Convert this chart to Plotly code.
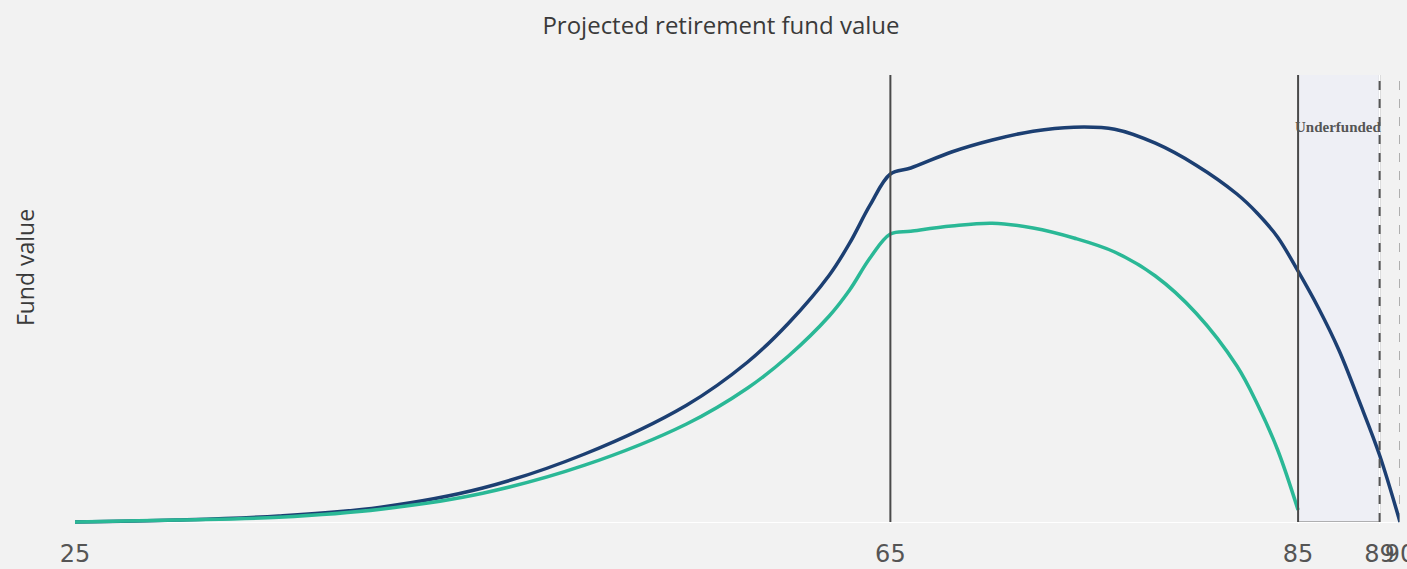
import plotly.graph_objects as go

# Projected fund value (in $ thousands) by age
ages_growth = [25, 30, 35, 40, 45, 50, 55, 58, 60, 62, 63, 64, 65, 66, 68, 70, 72, 74, 76, 78, 80, 82, 83, 84, 85, 86, 87, 88, 89, 90]
fund_growth = [0, 5, 15, 37, 85, 170, 292, 400, 497, 617, 697, 792, 870, 885, 925, 955, 977, 987, 982, 947, 892, 820, 772, 712, 627, 535, 430, 302, 167, 0]

ages_base = [25, 30, 35, 40, 45, 50, 55, 58, 60, 62, 63, 64, 65, 66, 68, 70, 72, 74, 76, 78, 80, 82, 83, 84, 85]
fund_base = [0, 5, 12, 32, 72, 142, 245, 335, 415, 515, 580, 660, 720, 727, 740, 747, 735, 710, 675, 615, 522, 390, 295, 180, 30]

tick_ages = [25, 65, 85, 89, 90]
retire_age = 65
depleted_age = 85
target_age = 89
horizon_age = 90

BG = "#f2f2f2"

fig = go.Figure()
fig.add_trace(go.Scatter(x=ages_growth, y=fund_growth, mode="lines",
                         line=dict(color="#1c3f72", width=3.5, shape="spline", smoothing=1),
                         hoverinfo="skip"))
fig.add_trace(go.Scatter(x=ages_base, y=fund_base, mode="lines",
                         line=dict(color="#2ab896", width=3.5, shape="spline", smoothing=1),
                         hoverinfo="skip"))

# shortfall window
fig.add_shape(type="rect", xref="x", yref="paper", x0=depleted_age, x1=target_age, y0=0.0045, y1=1,
              fillcolor="#eeeff5", line=dict(width=0), layer="below")
fig.add_shape(type="line", xref="x", yref="paper", x0=depleted_age, x1=target_age, y0=0.0045, y1=0.0045,
              line=dict(color="#9a9a9a", width=1.5), layer="below")
fig.add_shape(type="line", xref="x", yref="paper", x0=target_age, x1=target_age, y0=0.0045, y1=1,
              line=dict(color="#b5b5b5", width=1.5), layer="below")

fig.add_shape(type="line", xref="x", yref="paper", x0=retire_age, x1=retire_age, y0=0.0045, y1=1,
              line=dict(color="#4a4a4a", width=2), layer="above")
fig.add_shape(type="line", xref="x", yref="paper", x0=depleted_age, x1=depleted_age, y0=0.0045, y1=1,
              line=dict(color="#4a4a4a", width=2), layer="above")
fig.add_shape(type="line", xref="x", yref="paper", x0=target_age, x1=target_age, y0=0.0045, y1=1,
              line=dict(color="#555555", width=2, dash="dash"), layer="above")
fig.add_shape(type="line", xref="x", yref="paper", x0=horizon_age, x1=horizon_age, y0=0.0045, y1=1,
              line=dict(color="#999999", width=1.5, dash="dash"), layer="above")

fig.add_annotation(x=(depleted_age + target_age) / 2, y=0.906, xref="x", yref="paper",
                   text="<b>Underfunded</b>", showarrow=False,
                   font=dict(family="Liberation Serif", size=15, color="#555555"))

# y-axis caption
fig.add_annotation(x=-0.0377, y=0.57, xref="paper", yref="paper",
                   text="Fund value", textangle=-90, showarrow=False,
                   xanchor="center", yanchor="middle",
                   font=dict(family="Open Sans", size=23, color="#3a3a3a"))

fig.update_layout(
    width=1407, height=569,
    paper_bgcolor=BG, plot_bgcolor=BG,
    margin=dict(l=75, r=7, t=75, b=45),
    showlegend=False,
    title=dict(text="Projected retirement fund value", xref="paper", x=0.4875, xanchor="center",
               y=0.955, yanchor="middle",
               font=dict(family="Open Sans", size=24, color="#3a3a3a")),
    xaxis=dict(range=[25, 90], tickmode="array", tickvals=tick_ages,
               ticktext=[str(a) for a in tick_ages], tickangle=0,
               showgrid=True, gridcolor="#ffffff", gridwidth=1, zeroline=False,
               showline=False, ticks="outside", ticklen=8, tickcolor="rgba(0,0,0,0)",
               automargin=False, ticklabeloverflow="allow",
               tickfont=dict(family="DejaVu Sans", size=24, color="#555555")),
    yaxis=dict(range=[-5, 1117.5], showticklabels=False, showgrid=False,
               zeroline=True, zerolinecolor="#ffffff", zerolinewidth=1,
               automargin=False),
)

fig.write_html("out.html")
